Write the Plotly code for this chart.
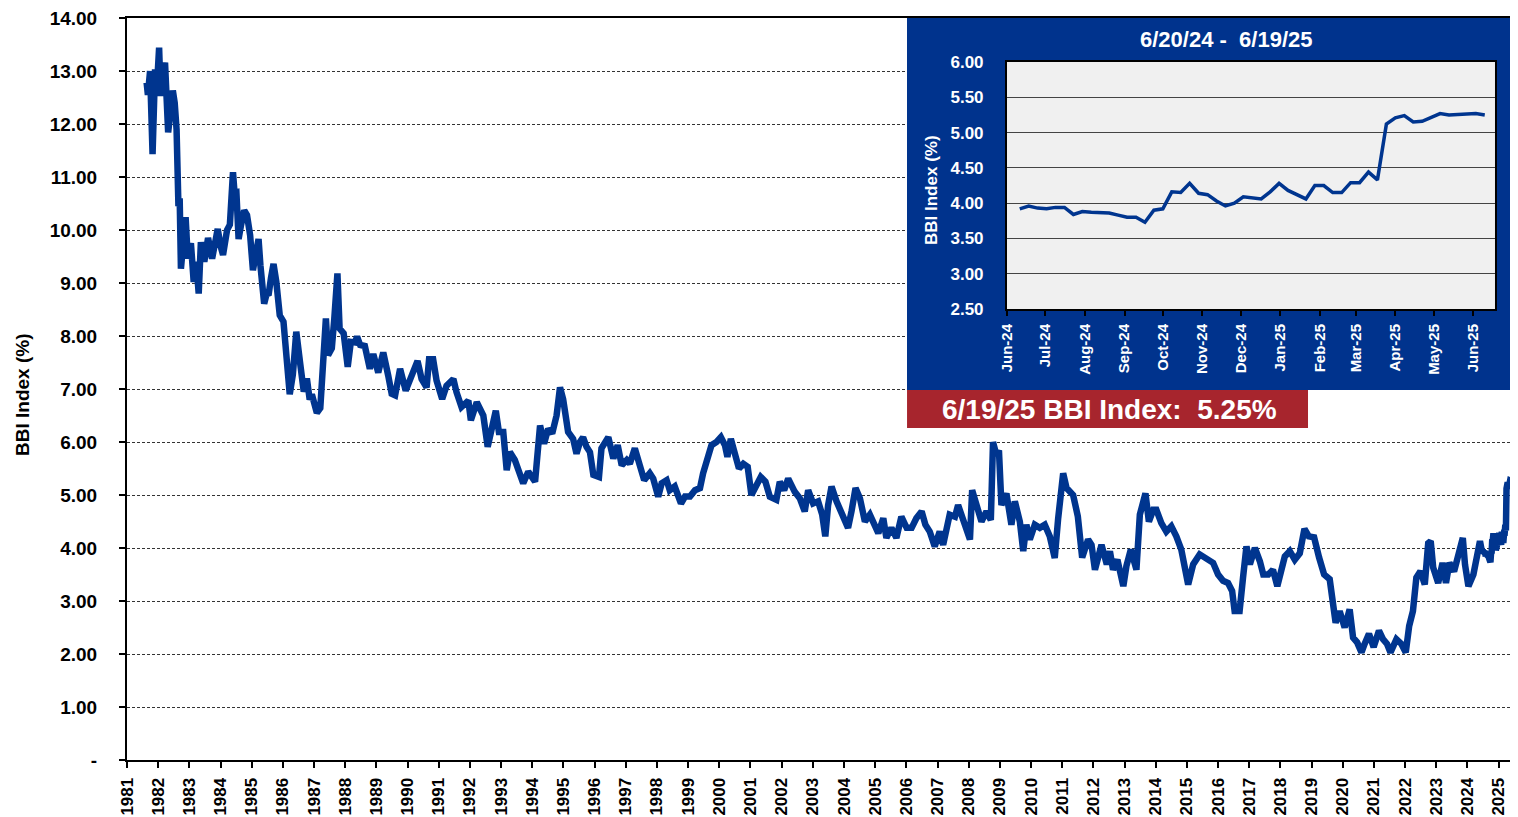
import plotly.graph_objects as go
import pandas as pd

# ---------------- data ----------------
main_years = [
    1981.63, 1981.67, 1981.74, 1981.82, 1981.90, 1981.96, 1982.03, 1982.08, 1982.15, 1982.22,
    1982.32, 1982.40, 1982.47, 1982.53, 1982.59, 1982.65, 1982.69, 1982.73, 1982.80, 1982.88,
    1982.95, 1983.05, 1983.14, 1983.22, 1983.30, 1983.37, 1983.48, 1983.60, 1983.73, 1983.82,
    1983.91, 1984.00, 1984.08, 1984.21, 1984.30, 1984.40, 1984.45, 1984.51, 1984.58, 1984.66,
    1984.76, 1984.85, 1984.95, 1985.04, 1985.13, 1985.22, 1985.28, 1985.40, 1985.48, 1985.54,
    1985.62, 1985.70, 1985.79, 1985.90, 1986.02, 1986.12, 1986.22, 1986.32, 1986.43, 1986.56,
    1986.67, 1986.77, 1986.86, 1986.93, 1987.09, 1987.20, 1987.31, 1987.38, 1987.45, 1987.57,
    1987.65, 1987.75, 1987.82, 1987.95, 1988.08, 1988.18, 1988.31, 1988.38, 1988.48, 1988.63,
    1988.79, 1988.90, 1989.06, 1989.22, 1989.38, 1989.49, 1989.60, 1989.76, 1989.94, 1990.13,
    1990.32, 1990.45, 1990.61, 1990.69, 1990.82, 1990.93, 1991.11, 1991.25, 1991.47, 1991.57,
    1991.73, 1991.95, 1992.03, 1992.22, 1992.43, 1992.57, 1992.70, 1992.83, 1992.93, 1993.07,
    1993.18, 1993.28, 1993.44, 1993.60, 1993.71, 1993.87, 1993.98, 1994.09, 1994.17, 1994.25,
    1994.38, 1994.51, 1994.64, 1994.78, 1994.89, 1994.99, 1995.07, 1995.15, 1995.31, 1995.42,
    1995.53, 1995.63, 1995.74, 1995.85, 1995.96, 1996.14, 1996.22, 1996.32, 1996.44, 1996.60,
    1996.74, 1996.87, 1997.03, 1997.13, 1997.29, 1997.45, 1997.59, 1997.77, 1997.88, 1998.04,
    1998.15, 1998.31, 1998.41, 1998.57, 1998.77, 1998.90, 1999.06, 1999.22, 1999.38, 1999.48,
    1999.59, 1999.75, 1999.91, 2000.05, 2000.18, 2000.26, 2000.37, 2000.50, 2000.63, 2000.77,
    2000.91, 2001.03, 2001.19, 2001.33, 2001.48, 2001.62, 2001.83, 2001.94, 2002.08, 2002.21,
    2002.42, 2002.58, 2002.74, 2002.85, 2003.01, 2003.17, 2003.30, 2003.40, 2003.49, 2003.60,
    2003.76, 2003.91, 2004.01, 2004.13, 2004.24, 2004.37, 2004.51, 2004.67, 2004.83, 2004.97,
    2005.10, 2005.26, 2005.36, 2005.52, 2005.68, 2005.84, 2006.01, 2006.17, 2006.32, 2006.49,
    2006.61, 2006.75, 2006.91, 2007.07, 2007.18, 2007.39, 2007.56, 2007.66, 2007.82, 2008.04,
    2008.11, 2008.25, 2008.41, 2008.57, 2008.71, 2008.78, 2008.89, 2008.97, 2009.05, 2009.21,
    2009.37, 2009.48, 2009.64, 2009.75, 2009.85, 2009.96, 2010.12, 2010.28, 2010.44, 2010.60,
    2010.76, 2010.87, 2011.03, 2011.14, 2011.35, 2011.50, 2011.64, 2011.83, 2011.94, 2012.05,
    2012.26, 2012.43, 2012.53, 2012.63, 2012.77, 2012.96, 2013.06, 2013.20, 2013.38, 2013.49,
    2013.67, 2013.78, 2013.92, 2014.02, 2014.18, 2014.34, 2014.50, 2014.66, 2014.82, 2015.04,
    2015.20, 2015.41, 2015.62, 2015.84, 2016.00, 2016.16, 2016.32, 2016.45, 2016.53, 2016.69,
    2016.80, 2016.91, 2017.02, 2017.18, 2017.34, 2017.45, 2017.61, 2017.76, 2017.90, 2018.03,
    2018.14, 2018.30, 2018.46, 2018.62, 2018.77, 2018.91, 2019.08, 2019.24, 2019.40, 2019.58,
    2019.69, 2019.77, 2019.90, 2020.06, 2020.22, 2020.33, 2020.46, 2020.60, 2020.70, 2020.84,
    2020.99, 2021.16, 2021.29, 2021.42, 2021.53, 2021.72, 2021.88, 2022.02, 2022.13, 2022.25,
    2022.36, 2022.49, 2022.63, 2022.74, 2022.82, 2022.90, 2023.06, 2023.20, 2023.31, 2023.42,
    2023.57, 2023.71, 2023.85, 2023.92, 2024.03, 2024.19, 2024.30, 2024.40,
]
main_values = [
    12.78, 12.55, 13.00, 11.43, 13.03, 12.70, 13.44, 12.53, 12.90, 13.16,
    11.84, 12.30, 12.63, 12.40, 11.90, 10.45, 10.60, 9.27, 9.70, 10.24,
    9.46, 9.75, 9.02, 9.40, 8.80, 9.77, 9.40, 9.85, 9.46, 9.80,
    10.02, 9.70, 9.53, 10.00, 10.10, 11.09, 10.70, 10.71, 9.83, 10.10,
    10.37, 10.28, 9.90, 9.24, 9.60, 9.83, 9.33, 8.61, 8.80, 8.77,
    9.10, 9.36, 9.02, 8.39, 8.27, 7.60, 6.90, 7.27, 8.08, 7.46,
    6.95, 7.20, 6.80, 6.90, 6.55, 6.64, 7.89, 8.33, 7.64, 7.77,
    8.33, 9.18, 8.14, 8.05, 7.42, 7.89, 7.88, 7.99, 7.83, 7.81,
    7.38, 7.66, 7.31, 7.69, 7.25, 6.91, 6.88, 7.38, 6.97, 7.22,
    7.53, 7.19, 7.03, 7.56, 7.56, 7.16, 6.81, 7.06, 7.19, 6.94,
    6.66, 6.78, 6.41, 6.75, 6.50, 5.91, 6.25, 6.59, 6.19, 6.19,
    5.47, 5.81, 5.66, 5.41, 5.22, 5.44, 5.34, 5.25, 5.78, 6.31,
    5.97, 6.25, 6.16, 6.50, 7.03, 6.81, 6.50, 6.19, 6.06, 5.78,
    6.00, 6.09, 5.91, 5.81, 5.38, 5.34, 5.88, 6.00, 6.09, 5.69,
    5.94, 5.56, 5.66, 5.59, 5.88, 5.56, 5.28, 5.41, 5.31, 4.97,
    5.22, 5.28, 5.09, 5.16, 4.84, 4.97, 4.97, 5.09, 5.13, 5.41,
    5.59, 5.94, 6.00, 6.09, 5.94, 5.72, 6.06, 5.75, 5.50, 5.59,
    5.53, 5.00, 5.16, 5.34, 5.25, 4.97, 4.91, 5.25, 5.09, 5.31,
    5.06, 4.94, 4.69, 5.09, 4.84, 4.88, 4.63, 4.22, 4.81, 5.16,
    4.88, 4.70, 4.53, 4.38, 4.69, 5.13, 4.94, 4.50, 4.63, 4.44,
    4.28, 4.56, 4.19, 4.38, 4.19, 4.59, 4.38, 4.38, 4.56, 4.69,
    4.44, 4.31, 4.03, 4.31, 4.06, 4.63, 4.59, 4.81, 4.50, 4.16,
    5.09, 4.81, 4.50, 4.69, 4.53, 6.00, 5.75, 5.84, 4.81, 5.03,
    4.44, 4.88, 4.50, 3.94, 4.44, 4.16, 4.44, 4.38, 4.44, 4.22,
    3.81, 4.56, 5.41, 5.13, 5.00, 4.60, 3.82, 4.16, 4.06, 3.59,
    4.06, 3.69, 3.94, 3.59, 3.78, 3.28, 3.66, 3.97, 3.59, 4.63,
    5.03, 4.50, 4.72, 4.72, 4.47, 4.31, 4.41, 4.22, 3.97, 3.31,
    3.69, 3.88, 3.81, 3.72, 3.50, 3.38, 3.34, 3.19, 2.81, 2.81,
    3.44, 4.03, 3.69, 4.00, 3.75, 3.50, 3.50, 3.59, 3.28, 3.56,
    3.84, 3.94, 3.78, 3.90, 4.36, 4.22, 4.20, 3.82, 3.50, 3.41,
    2.88, 2.59, 2.81, 2.50, 2.84, 2.31, 2.22, 2.03, 2.19, 2.38,
    2.13, 2.44, 2.28, 2.19, 2.03, 2.28, 2.19, 2.03, 2.53, 2.81,
    3.44, 3.56, 3.31, 4.09, 4.13, 3.63, 3.34, 3.72, 3.34, 3.72,
    3.56, 3.91, 4.19, 3.69, 3.28, 3.50, 3.94, 4.13,
]

inset_dates = [
    "2024-06-20", "2024-06-27", "2024-07-04", "2024-07-11", "2024-07-18", "2024-07-25",
    "2024-08-01", "2024-08-08", "2024-08-15", "2024-08-22", "2024-08-29",
    "2024-09-05", "2024-09-12", "2024-09-19", "2024-09-26",
    "2024-10-03", "2024-10-10", "2024-10-17", "2024-10-24", "2024-10-31",
    "2024-11-07", "2024-11-14", "2024-11-21", "2024-11-28",
    "2024-12-05", "2024-12-12", "2024-12-19", "2024-12-26",
    "2025-01-02", "2025-01-09", "2025-01-16", "2025-01-23", "2025-01-30",
    "2025-02-06", "2025-02-13", "2025-02-20", "2025-02-27",
    "2025-03-06", "2025-03-13", "2025-03-20", "2025-03-27",
    "2025-04-03", "2025-04-10", "2025-04-17", "2025-04-24",
    "2025-05-01", "2025-05-08", "2025-05-15", "2025-05-22", "2025-05-29",
    "2025-06-05", "2025-06-12", "2025-06-19",
]
inset_values = [
    3.92, 3.96, 3.93, 3.92, 3.94, 3.94,
    3.84, 3.88, 3.87, 3.86, 3.86,
    3.83, 3.80, 3.80, 3.73,
    3.90, 3.92, 4.16, 4.15, 4.28,
    4.14, 4.12, 4.03, 3.96,
    4.00, 4.09, 4.08, 4.06,
    4.16, 4.28, 4.18, 4.12, 4.06,
    4.25, 4.25, 4.15, 4.15,
    4.29, 4.29, 4.44, 4.33,
    5.12, 5.21, 5.24, 5.15,
    5.16, 5.21, 5.27, 5.25, 5.26,
    5.27, 5.27, 5.25,
]

year_ticks = list(range(1981, 2026))
main_y_ticks = list(range(0, 15))
inset_y_ticks = [2.5, 3.0, 3.5, 4.0, 4.5, 5.0, 5.5, 6.0]
inset_month_ticks = [
    "2024-06-10", "2024-07-10", "2024-08-10", "2024-09-10", "2024-10-10", "2024-11-10",
    "2024-12-10", "2025-01-10", "2025-02-10", "2025-03-10", "2025-04-10", "2025-05-10",
    "2025-06-10",
]
inset_month_labels = [
    "Jun-24", "Jul-24", "Aug-24", "Sep-24", "Oct-24", "Nov-24", "Dec-24",
    "Jan-25", "Feb-25", "Mar-25", "Apr-25", "May-25", "Jun-25",
]
inset_title = "6/20/24 -  6/19/25"
latest_label = "6/19/25 BBI Index:  5.25%"

# ------------------------------------------------------------------------
NAVY = "#00338D"
LINE = "#00358F"
RED = "#A7252D"
FONT = "Liberation Sans, Arial, sans-serif"

# last year of the main series comes from the weekly inset data
d = pd.to_datetime(inset_dates)
inset_dec_years = list(d.year + (d.dayofyear - 1) / 365.25)
all_years = main_years + inset_dec_years
all_values = main_values + inset_values

fig = go.Figure()

fig.add_trace(go.Scatter(
    x=all_years, y=all_values, mode="lines",
    line=dict(color=LINE, width=6.5), hoverinfo="skip",
    xaxis="x", yaxis="y", showlegend=False,
))

# navy background panel of the inset (its own subplot, filled)
fig.add_trace(go.Scatter(
    x=[-1, 2, 2, -1, -1], y=[-1, -1, 2, 2, -1], mode="lines", fill="toself",
    fillcolor=NAVY, line=dict(width=0, color=NAVY), hoverinfo="skip",
    xaxis="x2", yaxis="y2", showlegend=False,
))

# inset line
fig.add_trace(go.Scatter(
    x=inset_dates, y=inset_values, mode="lines",
    line=dict(color=LINE, width=3.5), hoverinfo="skip",
    xaxis="x3", yaxis="y3", showlegend=False,
))

# the page body has an 8px default margin, so the figure is 8px smaller
fig.update_layout(
    width=1510, height=809,
    margin=dict(l=119, r=5, t=10, b=57, autoexpand=False),
    paper_bgcolor="white",
    plot_bgcolor="#F0F0F0",
    showlegend=False,
    xaxis=dict(
        domain=[0, 1], range=[1981, 2025.46], automargin=False,
        tickmode="array", tickvals=year_ticks, ticktext=[str(y) for y in year_ticks],
        tickangle=-90, tickfont=dict(family=FONT, size=17, color="black", weight="bold"),
        ticks="outside", ticklen=6, tickwidth=1.5, tickcolor="black",
        showgrid=False, zeroline=False,
        showline=True, linecolor="black", linewidth=2, mirror=True,
        ticklabelstandoff=3, ticklabeloverflow="allow",
    ),
    yaxis=dict(
        domain=[0, 1], range=[0, 14], automargin=False,
        tickmode="array", tickvals=main_y_ticks,
        ticktext=[("-" if v == 0 else f"{v:.2f}") for v in main_y_ticks],
        tickfont=dict(family=FONT, size=19, color="black", weight="bold"),
        ticks="outside", ticklen=6, tickwidth=1.5, tickcolor="black",
        showgrid=True, gridcolor="#333333", gridwidth=1, griddash="3px,2px",
        zeroline=False,
        showline=True, linecolor="black", linewidth=2, mirror=True,
        ticklabelstandoff=18, ticklabeloverflow="allow",
    ),
    xaxis2=dict(domain=[0.5628, 1.0], range=[0.02, 0.98], visible=False,
                fixedrange=True, automargin=False),
    yaxis2=dict(domain=[0.4987, 1.0], range=[0.02, 0.98], visible=False,
                fixedrange=True, automargin=False),
    xaxis3=dict(
        domain=[0.6349, 0.9870], anchor="y3", type="date", automargin=False,
        range=["2024-06-10", "2025-06-27"],
        tickmode="array", tickvals=inset_month_ticks, ticktext=inset_month_labels,
        tickangle=-90, tickfont=dict(family=FONT, size=15, color="white", weight="bold"),
        ticks="outside", ticklen=5, tickwidth=1.5, tickcolor="black",
        showgrid=False, zeroline=False,
        showline=True, linecolor="black", linewidth=2, mirror=True,
        ticklabelstandoff=2,
    ),
    yaxis3=dict(
        domain=[0.6078, 0.9407], anchor="x3", range=[2.5, 6.0], automargin=False,
        tickmode="array", tickvals=inset_y_ticks,
        ticktext=[f"{v:.2f}" for v in inset_y_ticks],
        tickfont=dict(family=FONT, size=17, color="white", weight="bold"),
        ticks="", showgrid=True, gridcolor="#444444", gridwidth=1.2,
        zeroline=False,
        showline=True, linecolor="black", linewidth=2, mirror=True,
        ticklabelstandoff=18,
    ),
    shapes=[
        # white background for the main plot area
        dict(type="rect", xref="paper", yref="paper", x0=0, x1=1, y0=0, y1=1,
             fillcolor="white", line=dict(width=0), layer="below"),
        # red label box
        dict(type="rect", xref="paper", yref="paper", x0=0.5628, x1=0.8521,
             y0=0.4474, y1=0.4987, fillcolor=RED, line=dict(width=0), layer="above"),
    ],
    annotations=[
        dict(text="BBI Index (%)", xref="paper", yref="paper", x=-0.0758, y=0.4919,
             textangle=-90, showarrow=False, xanchor="center", yanchor="middle",
             font=dict(family=FONT, size=19, color="black", weight="bold")),
        dict(text=inset_title, xref="paper", yref="paper", x=0.7929, y=0.9704,
             showarrow=False, xanchor="center", yanchor="middle",
             font=dict(family=FONT, size=22, color="white", weight="bold")),
        dict(text="BBI Index (%)", xref="paper", yref="paper", x=0.5808, y=0.7682,
             textangle=-90, showarrow=False, xanchor="center", yanchor="middle",
             font=dict(family=FONT, size=17, color="white", weight="bold")),
        dict(text=latest_label, xref="paper", yref="paper", x=0.7092, y=0.4730,
             showarrow=False, xanchor="center", yanchor="middle",
             font=dict(family=FONT, size=28, color="white", weight="bold")),
    ],
)

fig.write_html("out.html")
